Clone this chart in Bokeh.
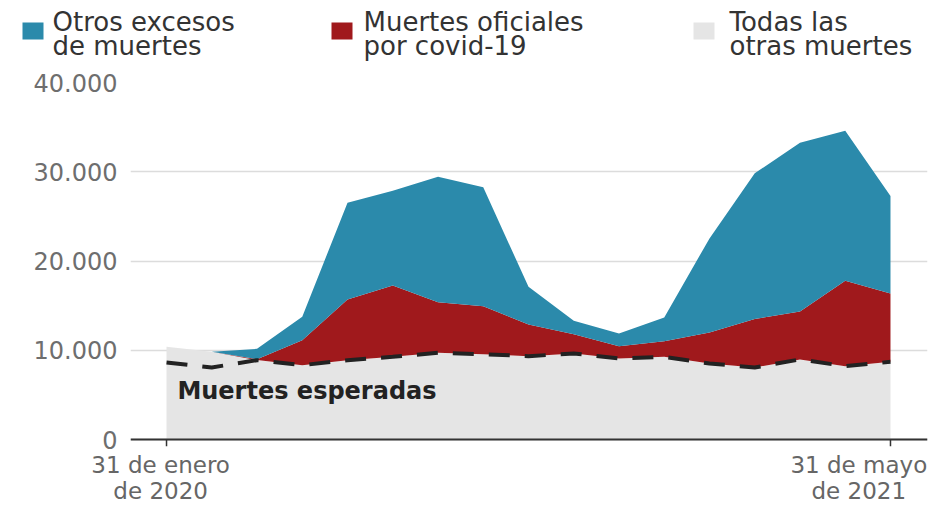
from bokeh.plotting import figure
from bokeh.models import ColumnDataSource, Range1d, FixedTicker, Span
from bokeh.layouts import column
from bokeh.embed import file_html
from bokeh.resources import INLINE
from bokeh.core.properties import value

# ---- data (monthly, 31 Jan 2020 .. 31 May 2021) ----
months = list(range(17))
other_deaths = [10380, 9820, 8900, 8330, 8890, 9260, 9710, 9560, 9340, 9640, 9080, 9260, 8520, 8070, 8970, 8220, 8700]
covid_deaths = [0, 0, 100, 2800, 6800, 8000, 5680, 5380, 3550, 2160, 1380, 1760, 3470, 5420, 5380, 9560, 7670]
other_excess = [0, 0, 1160, 2620, 10840, 10610, 14050, 13310, 4220, 1500, 1420, 2660, 10540, 16330, 18900, 16820, 10910]
expected = [8630, 8070, 8890, 8330, 8890, 9260, 9710, 9560, 9340, 9640, 9080, 9260, 8520, 8070, 8970, 8220, 8700]

y_ticks = [0, 10000, 20000, 30000, 40000]
y_tick_labels = ["0", "10.000", "20.000", "30.000", "40.000"]
x_ticks = [0, 16]
x_label_pos = [-0.13, 15.3]
x_tick_labels = ["31 de enero\nde 2020", "31 de mayo\nde 2021"]
legend_lines = [["Otros excesos", "de muertes"],
                ["Muertes oficiales", "por covid-19"],
                ["Todas las", "otras muertes"]]
annotation = "Muertes esperadas"

BLUE, RED, GRAY = "#2b8aab", "#a0191c", "#e5e5e5"
FONT = "DejaVu Sans"
Y_START = -784

# ---- legend strip ----
lg = figure(width=944, height=70, x_range=Range1d(0, 944), y_range=Range1d(70, 0),
            toolbar_location=None, output_backend="svg", title_location=None,
            min_border=0, x_axis_type=None, y_axis_type=None)
lg.frame_align = False
lg.outline_line_color = None
lg.xgrid.visible = False
lg.ygrid.visible = False
sq_left = [22, 331, 693]
lg.quad(left=sq_left, right=[l + 21 for l in sq_left], top=[22] * 3, bottom=[39] * 3,
        color=[BLUE, RED, GRAY], line_color=None)
tx = [52, 363, 729]
lg.text(x=tx, y=[21] * 3, text=[l[0] for l in legend_lines], text_font=value(FONT),
        text_font_size="26px", text_color="#333333", text_baseline="alphabetic")
lg.text(x=tx, y=[45] * 3, text=[l[1] for l in legend_lines], text_font=value(FONT),
        text_font_size="26px", text_color="#333333", text_baseline="alphabetic")

# ---- main chart ----
p = figure(frame_width=797, frame_height=364,
           x_range=Range1d(-0.796, 16.818), y_range=Range1d(Y_START, 40000),
           toolbar_location=None, output_backend="svg", title_location=None,
           min_border_left=130, min_border_right=17, min_border_top=12, min_border_bottom=0)
p.frame_align = False
p.outline_line_color = None
p.xgrid.visible = False
p.ygrid.ticker = FixedTicker(ticks=y_ticks)
p.ygrid.grid_line_color = "#dcdcdc"
p.ygrid.grid_line_width = 1.5

src = ColumnDataSource(dict(x=months, other=other_deaths, covid=covid_deaths, excess=other_excess))
p.varea_stack(["other", "covid", "excess"], x="x", color=[GRAY, RED, BLUE], source=src)
p.line(months, expected, line_color="#222222", line_width=4, line_dash="21 15")
p.text(x=[0.24], y=[5490], text=[annotation], text_font=value(FONT), text_font_style="bold",
       text_font_size="24px", text_color="#222222", text_baseline="middle", text_align="left")

# baseline and tick marks of the x axis
p.add_layout(Span(location=0, dimension="width", line_color="#333333", line_width=2))
p.segment(x0=x_ticks, y0=[0] * len(x_ticks), x1=x_ticks, y1=[Y_START] * len(x_ticks),
          line_color="#333333", line_width=1.5)

ya = p.yaxis[0]
ya.ticker = FixedTicker(ticks=y_ticks)
ya.major_label_overrides = {t: l for t, l in zip(y_ticks, y_tick_labels)}
ya.axis_line_color = None
ya.major_tick_line_color = None
ya.minor_tick_line_color = None
ya.major_tick_out = 0
ya.major_tick_in = 0
ya.major_label_standoff = 13
ya.major_label_text_font = FONT
ya.major_label_text_font_size = "24px"
ya.major_label_text_color = "#6e6e6e"

xa = p.xaxis[0]
xa.ticker = FixedTicker(ticks=x_label_pos)
xa.major_label_overrides = {t: l for t, l in zip(x_label_pos, x_tick_labels)}
xa.axis_line_color = None
xa.major_tick_line_color = None
xa.minor_tick_line_color = None
xa.major_tick_out = 0
xa.major_tick_in = 0
xa.major_label_standoff = 5
xa.major_label_text_font = FONT
xa.major_label_text_font_size = "23px"
xa.major_label_text_color = "#666666"
xa.major_label_text_line_height = 1.0

layout = column(lg, p)
open("out.html", "w").write(file_html(layout, INLINE))
